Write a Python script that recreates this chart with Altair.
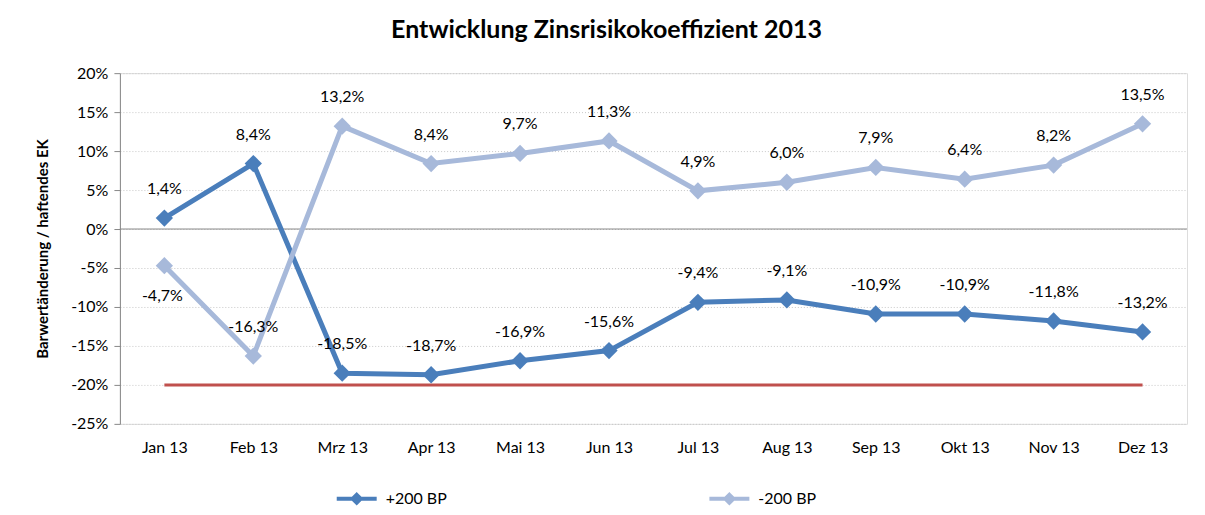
import altair as alt
import pandas as pd

months = ["Jan 13", "Feb 13", "Mrz 13", "Apr 13", "Mai 13", "Jun 13",
          "Jul 13", "Aug 13", "Sep 13", "Okt 13", "Nov 13", "Dez 13"]
plus200 = [1.4, 8.4, -18.5, -18.7, -16.9, -15.6, -9.4, -9.1, -10.9, -10.9, -11.8, -13.2]
minus200 = [-4.7, -16.3, 13.2, 8.4, 9.7, 11.3, 4.9, 6.0, 7.9, 6.4, 8.2, 13.5]
minus200_label_below = [True] + [False] * 11
limit_value = -20
y_ticks = [-25, -20, -15, -10, -5, 0, 5, 10, 15, 20]
series_names = ["+200 BP", "-200 BP"]
colors = ["#4A7EBB", "#A7B9DA"]

rows = []
for i, m in enumerate(months):
    rows.append({"month": m, "series": series_names[0], "value": plus200[i],
                 "label": f"{plus200[i]:.1f}%".replace(".", ","), "below": False})
    rows.append({"month": m, "series": series_names[1], "value": minus200[i],
                 "label": f"{minus200[i]:.1f}%".replace(".", ","), "below": minus200_label_below[i]})
df = pd.DataFrame(rows)
limit_df = pd.DataFrame({"month": months, "value": [limit_value] * len(months)})
zero_df = pd.DataFrame({"value": [0]})

FONT = "Lato"
FS = 16

x = alt.X("month:N", sort=months, title=None,
          scale=alt.Scale(paddingInner=0, paddingOuter=0.5),
          axis=alt.Axis(domain=False, ticks=False, labelAngle=0, labelFontSize=FS,
                        labelPadding=16, labelColor="#000", labelFont=FONT, grid=False))
y = alt.Y("value:Q", title="Barwertänderung / haftendes EK",
          scale=alt.Scale(domain=[-25, 20], nice=False),
          axis=alt.Axis(values=y_ticks, labelExpr="datum.value + '%'",
                        labelOverlap=False, labelFlush=False,
                        labelFontSize=FS, labelColor="#000", labelFont=FONT,
                        titleFont=FONT, titleFontSize=15, titleFontWeight="bold",
                        titlePadding=20, titleColor="#000",
                        domainColor="#888", tickColor="#888", tickSize=6,
                        gridColor="#C8C8C8", gridDash=[1, 2], gridWidth=1,
                        labelPadding=6))

color = alt.Color("series:N", sort=series_names,
                  scale=alt.Scale(domain=series_names, range=colors),
                  legend=alt.Legend(title=None, orient="none", direction="horizontal",
                                    legendX=225, legendY=414, columns=2, columnPadding=254,
                                    padding=0,
                                    labelFontSize=FS, labelFont=FONT, labelColor="#000",
                                    symbolType="M-2,0L2,0M0,-0.4L0.4,0L0,0.4L-0.4,0Z",
                                    symbolSize=400, symbolStrokeWidth=4, symbolFillColor=None,
                                    labelOffset=17))

base = alt.Chart(df)
lines = base.mark_line(strokeWidth=5).encode(x=x, y=y, color=color)
points = base.mark_point(shape="diamond", size=300, filled=True, opacity=1).encode(
    x=x, y=y, color=alt.Color("series:N", sort=series_names,
                              scale=alt.Scale(domain=series_names, range=colors), legend=None))
labels_above = base.transform_filter("!datum.below").mark_text(
    dy=-29, fontSize=FS, font=FONT, color="#000").encode(x=x, y=y, text="label:N")
labels_below = base.transform_filter("datum.below").mark_text(
    dy=30, dx=-2, fontSize=FS, font=FONT, color="#000").encode(x=x, y=y, text="label:N")

zero = alt.Chart(zero_df).mark_rule(color="#888", strokeWidth=1).encode(y=y)
limit = alt.Chart(limit_df).mark_line(color="#C0504D", strokeWidth=3).encode(x=x, y=y)

chart = alt.layer(zero, limit, lines, points, labels_above, labels_below).properties(
    width=1068, height=351,
    title=alt.TitleParams("Entwicklung Zinsrisikokoeffizient 2013", fontSize=25,
                          font=FONT, fontWeight="bold", color="#000", anchor="middle",
                          offset=22, dx=-47),
    autosize=alt.AutoSizeParams(type="none"),
    padding={"left": 112, "top": 65, "right": 10, "bottom": 83},
).configure_view(stroke=None).configure(background="white")

chart.save("out.html", embed_options={"renderer": "svg", "actions": False})
